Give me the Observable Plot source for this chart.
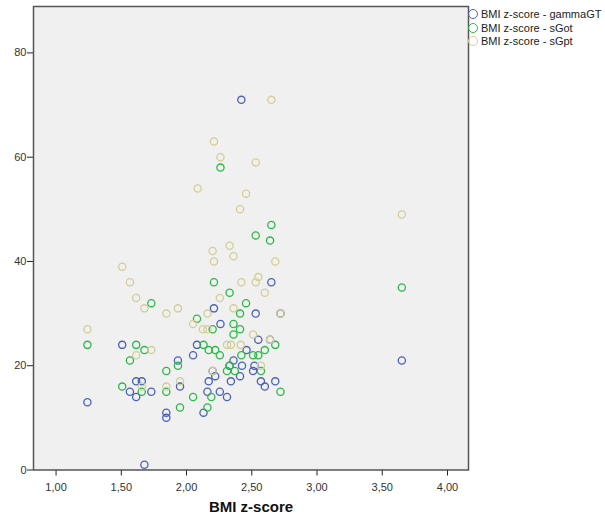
<!DOCTYPE html>
<html><head><meta charset="utf-8">
<script src="https://cdn.jsdelivr.net/npm/d3@7"></script>
<script src="https://cdn.jsdelivr.net/npm/@observablehq/plot@0.6"></script>
<style>
body{margin:0;background:#fff;font-family:"Liberation Sans",Arial,sans-serif;}
#wrap{position:relative;width:605px;height:517px;}
#legend{position:absolute;left:468px;top:7px;font-size:11px;color:#222;}
.item{display:flex;align-items:center;height:13.7px;white-space:nowrap;}
.sw{width:10px;height:10px;border-radius:50%;border:1.3px solid;box-sizing:border-box;margin-right:3px;}
</style></head>
<body><div id="wrap"><div id="chart"></div><div id="legend"></div></div>
<script>
const seriesNames = ["BMI z-score - gammaGT", "BMI z-score - sGot", "BMI z-score - sGpt"];
const seriesColors = ["#4a62b8", "#2EB848", "#D3CE97"];
const xTicks = [1, 1.5, 2, 2.5, 3, 3.5, 4];
const yTicks = [0, 20, 40, 60, 80];
const xLabel = "BMI z-score";

const gammaX = [2.42,1.24,1.507,1.934,2.05,2.08,2.65,2.21,2.53,2.72,2.26,2.55,2.64,2.46,2.36,2.33,2.425,2.52,2.20,2.22,2.41,2.51,2.17,2.34,2.57,2.68,2.60,2.16,2.255,2.31,2.13,1.95,1.614,1.657,1.566,1.614,1.73,1.845,1.845,1.677,3.65];
const gammaY = [71,13,24,21,22,24,36,31,30,30,28,25,25,23,21,20,20,20,19,18,18,19,17,17,17,17,16,15,15,14,11,16,17,17,15,14,15,11,10,1,21];
const gotX = [2.26,2.53,2.65,2.64,2.21,2.33,2.456,2.41,2.08,2.36,2.20,2.41,2.36,2.68,2.13,2.17,2.22,2.60,2.255,2.42,2.51,2.55,2.33,2.31,2.37,2.57,2.72,2.19,2.05,2.16,1.95,1.73,1.24,1.614,1.677,1.566,1.934,1.845,1.507,1.657,1.845,3.65];
const gotY = [58,45,47,44,36,34,32,30,29,28,27,27,26,24,24,23,23,23,22,22,22,22,20,19,19,19,15,14,14,12,12,32,24,24,23,21,20,19,16,15,15,35];
const gptX = [2.21,2.26,2.53,2.085,2.456,2.41,2.33,2.20,2.36,2.21,2.65,2.68,1.507,1.566,1.614,1.677,1.845,1.934,2.05,1.24,1.73,1.614,2.42,2.53,2.55,2.60,2.255,2.16,2.36,2.72,2.125,2.16,2.51,2.64,2.31,2.34,2.415,2.57,2.20,1.95,1.657,1.845,3.65];
const gptY = [63,60,59,54,53,50,43,42,41,40,71,40,39,36,33,31,30,31,28,27,23,22,36,36,37,34,33,30,31,30,27,27,26,25,24,24,24,20,19,17,16,16,49];

const seriesX = [gammaX, gotX, gptX];
const seriesY = [gammaY, gotY, gptY];
const data = [];
seriesNames.forEach((s, i) => seriesX[i].forEach((x, j) => data.push({series: s, x, y: seriesY[i][j]})));

const fmt = d => d3.format(".2f")(d).replace(".", ",");

const chart = Plot.plot({
  width: 605, height: 517,
  marginLeft: 33, marginRight: 137, marginTop: 6, marginBottom: 47.5,
  style: {fontFamily: '"Liberation Sans", Arial, sans-serif', fontSize: "11px", color: "#333", background: "transparent"},
  x: {domain: [0.827, 4.161]},
  y: {domain: [0, 88.9]},
  color: {domain: seriesNames, range: seriesColors},
  marks: [
    Plot.frame({fill: "#f0f0f0", stroke: null}),
    Plot.axisY({ticks: yTicks, tickSize: 6, tickPadding: 1, label: null, fontSize: 11, stroke: "#222"}),
    Plot.axisX({ticks: xTicks, tickSize: 6, tickPadding: 7, tickFormat: fmt, label: null, fontSize: 11, stroke: "#222"}),
    Plot.dot(data, {x: "x", y: "y", stroke: "series", r: 3.6, strokeWidth: 1.3, fill: "none"}),
    Plot.frame({stroke: "#555", strokeWidth: 1.5}),
    Plot.text([xLabel], {text: d => d, frameAnchor: "bottom", dy: 42, fontSize: 15, fontWeight: "bold", fill: "#111"})
  ]
});
document.getElementById("chart").appendChild(chart);

const legend = document.getElementById("legend");
seriesNames.forEach((s, i) => {
  const item = document.createElement("div");
  item.className = "item";
  const sw = document.createElement("span");
  sw.className = "sw";
  sw.style.borderColor = seriesColors[i];
  item.appendChild(sw);
  item.appendChild(document.createTextNode(s));
  legend.appendChild(item);
});
</script>
</body></html>
